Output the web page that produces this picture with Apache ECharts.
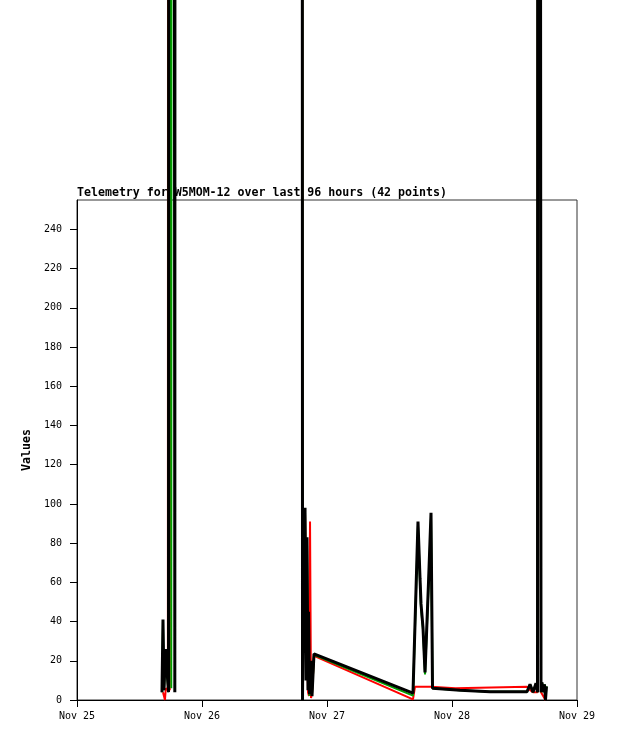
<!DOCTYPE html>
<html>
<head>
<meta charset="utf-8">
<script src="https://cdn.jsdelivr.net/npm/echarts@6/dist/echarts.min.js"></script>
<style>
html,body{margin:0;padding:0;background:#fff;}
#chart{width:618px;height:741px;}
</style>
</head>
<body>
<div id="chart"></div>
<script>
// Tick labels for the x axis (every 24 hours from Nov 25 00:00)
const xTickLabels = ['Nov 25', 'Nov 26', 'Nov 27', 'Nov 28', 'Nov 29'];
const yTicks = [0, 20, 40, 60, 80, 100, 120, 140, 160, 180, 200, 220, 240];

// Off-scale readings (far above the plotted range)
const H = 2000;

// Hours since Nov 25 00:00, and values per series
const redHours = [16.51, 16.89, 17.05, 17.45, 17.57, 17.66, 17.81, 17.97, 18.14, 18.90, 43.10, 43.30, 43.49, 43.78, 44.35, 44.54, 44.74, 44.93, 45.12, 45.50, 64.51, 64.89, 66.05, 67.97, 68.26, 72.67, 73.05, 86.40, 87.00, 87.55, 88.42, 88.61, 88.90, 89.09, 89.47, 89.95];
const redValues = [4, 0, 6, 5, H, H, 5, 6, H, H, H, 1, 70, 95, 4, 2, 91, 1, 3, 22.5, 0.3, 6.7, 6.7, 6.7, 6, 6, 6.8, 6.8, 5, 4, 4, H, H, 4, 4, 0];

const greenHours = [16.32, 16.51, 16.70, 16.99, 17.57, 17.76, 17.95, 18.10, 18.30, 18.90, 43.10, 43.30, 43.49, 43.78, 43.97, 44.16, 44.35, 44.45, 44.64, 44.93, 45.12, 45.50, 64.51, 65.47, 65.86, 66.05, 66.43, 66.82, 67.20, 67.49, 67.97, 68.26, 73.54, 79.30, 86.40, 86.98, 87.55, 88.13, 88.42, 88.61, 88.90, 89.09, 89.28, 89.47, 89.76, 89.95, 90.14];
const greenValues = [4, 38, 5, 24, 4, H, H, 6, H, H, H, 0, 75, 96, 47, 80, 20, 44, 2, 19, 3, 23, 2.2, 89, 60, 47, 36, 13, 38, 58, 93, 6, 5, 4.2, 4.2, 8, 4, 8.5, 4, H, H, 4, 9, 4, 8, 0, 7];

const blackHours = [16.32, 16.51, 16.70, 16.99, 17.57, 17.76, 18.40, 18.78, 18.90, 43.10, 43.30, 43.49, 43.78, 43.97, 44.16, 44.35, 44.45, 44.64, 44.93, 45.12, 45.50, 64.51, 65.47, 65.86, 66.05, 66.43, 66.82, 67.20, 67.49, 67.97, 68.26, 73.54, 79.30, 86.40, 86.98, 87.55, 88.13, 88.42, 88.61, 88.90, 89.09, 89.28, 89.47, 89.76, 89.95, 90.14];
const blackValues = [4, 41, 5, 26, 4, H, H, 4, H, H, 0, 78, 98, 10, 83, 5, 45, 3, 20, 2, 23.5, 3.5, 91, 62, 49, 37, 14, 40, 60, 95.5, 6, 5, 4.2, 4.2, 8, 4, 8.5, 4, H, H, 4, 9, 4, 8, 0, 7];

function pairs(xs, ys) { return xs.map((x, i) => [x, ys[i]]); }

const chart = echarts.init(document.getElementById('chart'), null, {renderer: 'canvas'});
const mono = '"DejaVu Sans Mono", "Liberation Mono", monospace';

function lineSeries(name, color, width, xs, ys) {
  return {
    name: name, type: 'line', data: pairs(xs, ys),
    showSymbol: false, symbol: 'none', clip: false, z: 5,
    lineStyle: {color: color, width: width},
    animation: false
  };
}

chart.setOption({
  animation: false,
  backgroundColor: '#ffffff',
  title: {
    text: 'Telemetry for W5MOM-12 over last 96 hours (42 points)',
    left: 77, top: 187, padding: 0, z: 1,
    textStyle: {fontFamily: mono, fontSize: 11.6, fontWeight: 'bold', color: '#000'}
  },
  grid: {left: 77, right: 41, top: 200, bottom: 41, show: true, borderColor: '#333', borderWidth: 1, backgroundColor: 'transparent'},
  xAxis: {
    type: 'value', min: 0, max: 96, interval: 24,
    axisLine: {show: true, lineStyle: {color: '#000', width: 1}},
    axisTick: {show: true, length: 7, lineStyle: {color: '#000'}},
    splitLine: {show: false},
    axisLabel: {
      margin: 11, color: '#000', fontFamily: mono, fontSize: 10,
      formatter: v => xTickLabels[Math.round(v / 24)] || ''
    }
  },
  yAxis: {
    type: 'value', min: 0, max: 255, interval: 20,
    name: 'Values', nameLocation: 'middle', nameGap: 36, nameRotate: 90,
    nameTextStyle: {fontFamily: mono, fontSize: 11.6, fontWeight: 'bold', color: '#000'},
    axisLine: {show: true, lineStyle: {color: '#000', width: 1}},
    axisTick: {show: true, length: 7, lineStyle: {color: '#000'}},
    splitLine: {show: false},
    axisLabel: {
      margin: 15, color: '#000', fontFamily: mono, fontSize: 10, showMaxLabel: false,
      formatter: v => (yTicks.indexOf(v) >= 0 ? String(v) : '')
    }
  },
  series: [
    lineSeries('red', '#ff0000', 2, redHours, redValues),
    lineSeries('green', '#00a000', 2, greenHours, greenValues),
    lineSeries('black', '#000000', 3, blackHours, blackValues)
  ]
});
</script>
</body>
</html>
